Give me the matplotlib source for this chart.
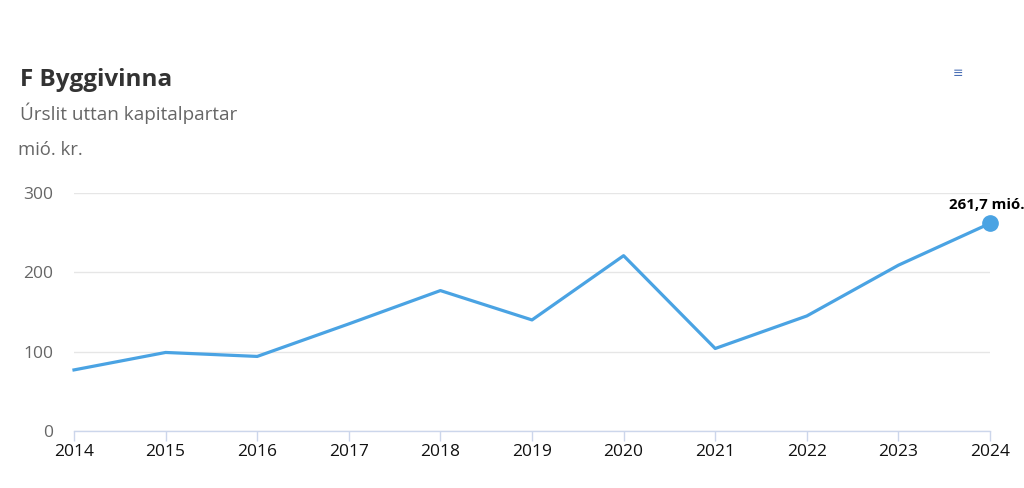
import matplotlib.pyplot as plt

# Gögn
years = [2014, 2015, 2016, 2017, 2018, 2019, 2020, 2021, 2022, 2023, 2024]
values = [77, 99, 94, 135, 177, 140, 221, 104, 145, 209, 261.7]
y_ticks = [0, 100, 200, 300]
last_label = "261,7 mió. kr."

plt.rcParams['font.family'] = ['Open Sans', 'DejaVu Sans']

line_col = '#4aa3e3'

fig = plt.figure(figsize=(10.24, 4.88), dpi=100)
ax = fig.add_axes([74 / 1024, 57 / 488, 916 / 1024, 238 / 488])

ax.plot(years, values, color=line_col, lw=2.3, solid_joinstyle='round', clip_on=False, zorder=3)
ax.plot(years[-1], values[-1], 'o', color=line_col, ms=11, clip_on=False, zorder=4)
ax.annotate(last_label, (years[-1], values[-1]), xytext=(-29.5, 13), textcoords='offset points',
            ha='left', va='center', fontsize=10.8, fontweight='bold', color='black',
            annotation_clip=False)

ax.set_xlim(years[0], years[-1])
ax.set_ylim(0, 300)
ax.set_xticks(years)
ax.set_xticklabels([str(y) for y in years])
ax.set_yticks(y_ticks)
ax.yaxis.grid(True, color='#e6e6e6', lw=1)
ax.set_axisbelow(True)

for s in ['top', 'right', 'left']:
    ax.spines[s].set_visible(False)
ax.spines['bottom'].set_color('#ccd6eb')
ax.spines['bottom'].set_linewidth(1)
ax.tick_params(axis='x', length=7, width=1, color='#ccd6eb', labelsize=12.5, labelcolor='#111111', pad=2)
ax.tick_params(axis='y', length=0, labelsize=12.5, labelcolor='#666666', pad=15)

fig.text(20 / 1024, 1 - 80 / 488, "F Byggivinna", fontsize=17.5, fontweight='bold', color='#333333', va='center')
fig.text(20 / 1024, 1 - 113 / 488, "Úrslit uttan kapitalpartar", fontsize=13.6, color='#666666', va='center')
fig.text(18 / 1024, 1 - 150 / 488, "mió. kr.", fontsize=13.3, color='#666666', va='center')
fig.text(958 / 1024, 1 - 73 / 488, "≡", fontsize=9, color='#4a6fb5', ha='center', va='center')

fig.savefig('out.png', dpi=100)
